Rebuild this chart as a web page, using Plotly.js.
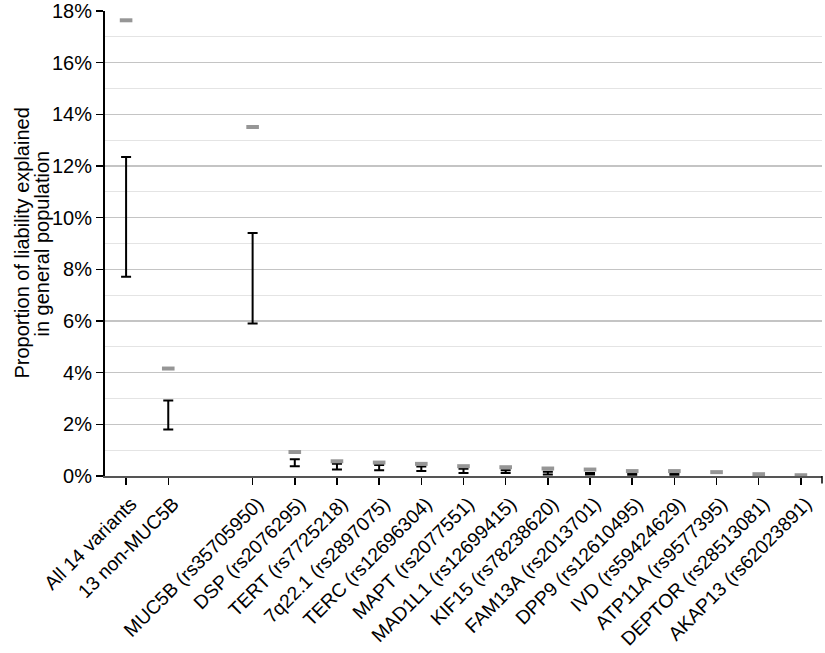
<!DOCTYPE html>
<html>
<head>
<meta charset="utf-8">
<script src="https://cdn.plot.ly/plotly-3.0.1.min.js"></script>
<style>html,body{margin:0;padding:0;background:#fff;}#chart{width:825px;height:653px;}</style>
</head>
<body>
<div id="chart"></div>
<script>
// Categories (a blank slot separates the summary rows from the single variants)
const categories = [
  'All 14 variants', '13 non-MUC5B', ' ',
  'MUC5B (rs35705950)', 'DSP (rs2076295)', 'TERT (rs7725218)', '7q22.1 (rs2897075)',
  'TERC (rs12696304)', 'MAPT (rs2077551)', 'MAD1L1 (rs12699415)', 'KIF15 (rs78238620)',
  'FAM13A (rs2013701)', 'DPP9 (rs12610495)', 'IVD (rs59424629)', 'ATP11A (rs9577395)',
  'DEPTOR (rs28513081)', 'AKAP13 (rs62023891)'
];
// Grey dash estimate (%)
const greyValue = [17.64, 4.16, null, 13.51, 0.93, 0.57, 0.52, 0.47, 0.38, 0.34, 0.29, 0.25, 0.19, 0.19, 0.15, 0.07, 0.03];
// Black interval lower / upper bounds (%)
const ciLow  = [7.71, 1.80, null, 5.90, 0.38, 0.25, 0.22, 0.19, 0.12, 0.12, 0.06, 0.06, 0.05, 0.05, null, null, null];
const ciHigh = [12.35, 2.92, null, 9.41, 0.65, 0.47, 0.43, 0.37, 0.28, 0.22, 0.16, 0.12, 0.10, 0.10, null, null, null];
const tickLabels = categories.filter(c => c.trim() !== '');
const yTicks = [0, 2, 4, 6, 8, 10, 12, 14, 16, 18];
const yTickText = yTicks.map(v => v + '%');

const FONT = 'Liberation Sans, Arial, Helvetica, sans-serif';

const ciTrace = {
  type: 'scatter', mode: 'markers', x: categories, y: ciLow,
  marker: {color: 'rgba(0,0,0,0)', size: 1},
  error_y: {
    type: 'data', symmetric: false,
    array: ciHigh.map((h, i) => (h === null || ciLow[i] === null) ? null : h - ciLow[i]),
    arrayminus: ciLow.map(v => v === null ? null : 0),
    color: '#000', thickness: 2, width: 5
  },
  hoverinfo: 'skip', cliponaxis: false
};
const greyTrace = {
  type: 'scatter', mode: 'markers', x: categories, y: greyValue,
  marker: {symbol: 'line-ew', size: 9, line: {color: '#969696', width: 4}},
  hoverinfo: 'skip', cliponaxis: false
};

const layout = {
  width: 825, height: 653,
  margin: {l: 105, r: 3, t: 11, b: 177},
  paper_bgcolor: '#fff', plot_bgcolor: '#fff',
  showlegend: false,
  font: {family: FONT, size: 20, color: '#000'},
  xaxis: {
    type: 'category', categoryorder: 'array', categoryarray: categories,
    range: [-0.5, categories.length - 0.5],
    tickmode: 'array', tickvals: tickLabels, ticktext: tickLabels,
    tickangle: -45, ticks: 'outside', ticklen: 7, tickwidth: 1.5, tickcolor: '#000',
    ticklabelshift: 5, ticklabelstandoff: 0,
    showline: true, linecolor: '#555', linewidth: 2,
    showgrid: false, zeroline: false,
    tickfont: {family: FONT, size: 19.3, color: '#000'}
  },
  yaxis: {
    range: [0, 18], tickmode: 'array', tickvals: yTicks, ticktext: yTickText,
    ticks: 'outside', ticklen: 7, tickwidth: 1.5, tickcolor: '#000',
    showline: true, linecolor: '#000', linewidth: 2,
    showgrid: true, gridcolor: '#c4c4c4', gridwidth: 1.5,
    minor: {dtick: 1, showgrid: true, gridcolor: '#e4e4e4', gridwidth: 1, ticks: ''},
    zeroline: false,
    tickfont: {family: FONT, size: 20, color: '#000'}
  },
  annotations: [
    {text: 'Proportion of liability explained', xref: 'paper', yref: 'paper', x: 0, y: 0.5,
     xanchor: 'center', yanchor: 'middle', xshift: -84, textangle: -90, showarrow: false,
     font: {family: FONT, size: 20, color: '#000'}},
    {text: 'in general population', xref: 'paper', yref: 'paper', x: 0, y: 0.5,
     xanchor: 'center', yanchor: 'middle', xshift: -64, textangle: -90, showarrow: false,
     font: {family: FONT, size: 20, color: '#000'}}
  ],
  shapes: [
    {type: 'line', xref: 'paper', yref: 'paper', x0: 1, x1: 1, y0: 0, y1: -0.016,
     line: {color: '#000', width: 1.5}}
  ]
};

Plotly.newPlot('chart', [ciTrace, greyTrace], layout, {staticPlot: true, displayModeBar: false});
</script>
</body>
</html>
